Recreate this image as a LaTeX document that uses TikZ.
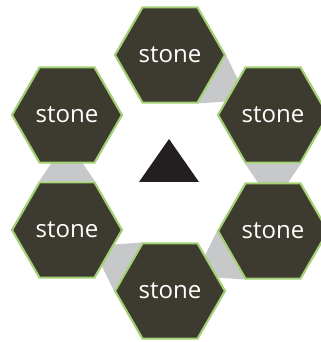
\documentclass[tikz,border=0pt]{standalone}
\usepackage{fontspec}
\setsansfont{Open Sans}
\usetikzlibrary{shapes.geometric,calc}
\definecolor{hexfill}{HTML}{3D3B2F}
\definecolor{hexline}{HTML}{A3D074}
\definecolor{linkgray}{HTML}{C7C8CA}
\definecolor{markblack}{HTML}{231F20}

\begin{document}
\begin{tikzpicture}[
  x=0.03cm,y=0.03cm,
  hexnode/.style={regular polygon,regular polygon sides=6,minimum size=3.3cm,inner sep=0pt,
    fill=hexfill,draw=hexline,line width=1.8pt,text=white,font=\sffamily\fontsize{20.5}{20.5}\selectfont},
  link/.style={fill=linkgray}
]
  \useasboundingbox (0,0) rectangle (321,342);
  \coordinate (ctop) at (170,287);
  \coordinate (crt) at (273,227);
  \coordinate (crb) at (273,111);
  \coordinate (cbot) at (170,51);
  \coordinate (clb) at (67,112);
  \coordinate (clt) at (67,227);

  \fill[link] ($(ctop)+(-60:56)$) -- ($(ctop)+(0:56)$) -- ($(ctop)+(-30:90)$) -- cycle;
  \fill[link] ($(crt)+(-60:56)$) -- ($(crt)+(-120:56)$) -- ($(crt)+(-90:90)$) -- cycle;
  \fill[link] ($(crb)+(-120:56)$) -- ($(crb)+(180:56)$) -- ($(crb)+(210:90)$) -- cycle;
  \fill[link] ($(cbot)+(120:56)$) -- ($(cbot)+(180:56)$) -- ($(cbot)+(150:90)$) -- cycle;
  \fill[link] ($(clb)+(60:56)$) -- ($(clb)+(120:56)$) -- ($(clb)+(90:90)$) -- cycle;

  \node[hexnode] (top) at (ctop) {stone};
  \node[hexnode] (rtop) at (crt) {stone};
  \node[hexnode] (rbot) at (crb) {stone};
  \node[hexnode] (bot) at (cbot) {stone};
  \node[hexnode] (lbot) at (clb) {stone};
  \node[hexnode] (ltop) at (clt) {stone};

  \fill[markblack] (139,160) -- (199,160) -- (169,203) -- cycle;
\end{tikzpicture}
\end{document}
